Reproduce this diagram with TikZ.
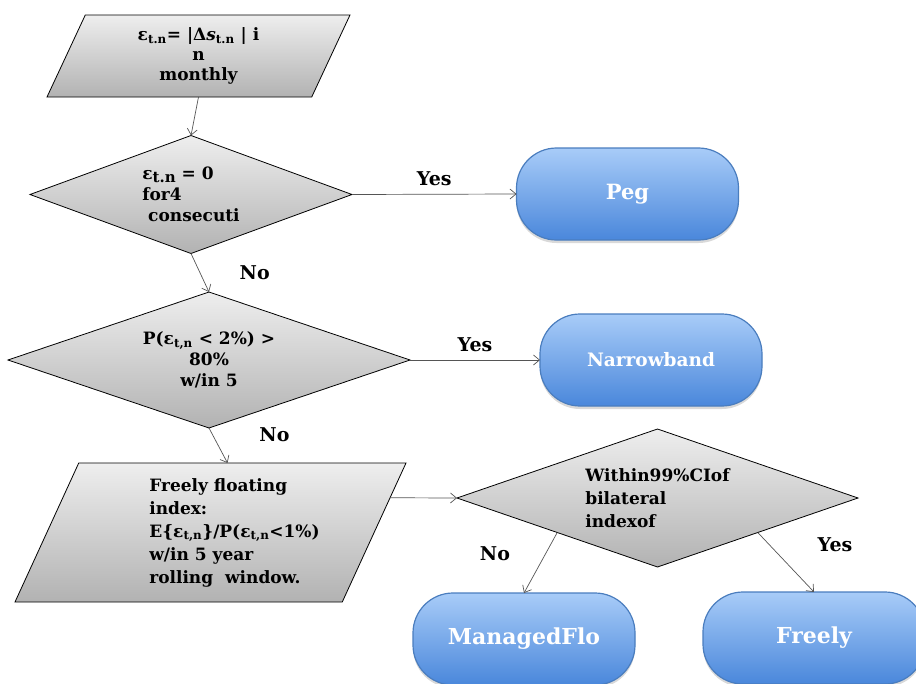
\documentclass[tikz,border=0pt]{standalone}
\usepackage{fontspec}
\setmainfont{DejaVu Serif}
\usetikzlibrary{shapes.geometric,arrows.meta,calc,shadows}
\definecolor{grayTop}{HTML}{EEEEEE}
\definecolor{grayBottom}{HTML}{B2B2B2}
\definecolor{regimeTop}{HTML}{A8CCF8}
\definecolor{regimeBottom}{HTML}{4A87DB}
\definecolor{regimeBorder}{HTML}{4A7DBE}
\definecolor{flowGray}{HTML}{555555}
\begin{document}
\begin{tikzpicture}[
  x=1pt,
  y=-1pt,
  >={Straight Barb[length=6pt,width=10pt]},
  every node/.style={
    font=\bfseries\fontsize{17}{21}\selectfont,
  },
  input box/.style={
    trapezium,
    trapezium stretches body,
    draw=black,
    line width=0.8pt,
    top color=grayTop,
    bottom color=grayBottom,
    inner sep=0pt,
    outer sep=0pt,
  },
  decision/.style={
    diamond,
    draw=black,
    line width=0.8pt,
    top color=grayTop,
    bottom color=grayBottom,
    inner sep=0pt,
    outer sep=0pt,
  },
  regime/.style={
    rectangle,
    rounded corners=40pt,
    draw=regimeBorder,
    line width=1.2pt,
    top color=regimeTop,
    bottom color=regimeBottom,
    text=white,
    minimum width=222pt,
    minimum height=92pt,
    outer sep=0pt,
    drop shadow={shadow xshift=0pt,shadow yshift=-3pt,opacity=0.3},
  },
  flow/.style={
    ->,
    draw=flowGray,
    line width=0.7pt,
  },
  answer/.style={
    font=\bfseries\fontsize{19}{23}\selectfont,
  },
]
\useasboundingbox (0,0) rectangle (916,683);
\clip (0,0) rectangle (916,683);
\node[input box,trapezium left angle=56,trapezium right angle=124,
  minimum width=303pt,minimum height=82pt,align=center,
  font=\bfseries\fontsize{17}{20}\selectfont] (in1) at (198.5,56)
  {ε\textsubscript{t.n}= |Δ\textit{s}\textsubscript{t.n} | i\\n\\monthly};
\node[decision,aspect=2.7,minimum width=322pt,minimum height=118pt,align=left] (dec1) at (191,194.5)
  {ε\raisebox{-0.35ex}{\fontsize{15}{15}\selectfont t.n} = 0\\for4\\\ consecuti};
\node[regime,font=\bfseries\fontsize{21}{25}\selectfont] (peg) at (627.5,194) {Peg};
\node[decision,aspect=2.9,minimum width=402pt,minimum height=136pt,align=center] (dec2) at (209,360)
  {P(ε\textsubscript{t,n} < 2\%) >\\80\%\\w/in 5};
\node[regime,font=\bfseries\fontsize{18.5}{22}\selectfont] (nb) at (651,360) {Narrowband};
\node[input box,trapezium left angle=61,trapezium right angle=119,
  minimum width=391pt,minimum height=139pt,
  font=\bfseries\fontsize{17}{23}\selectfont] (in2) at (210.5,532.5)
  {\hspace*{48pt}\begin{tabular}{@{}l@{}}Freely floating\\index:\\E\{ε\textsubscript{t,n}\}/P(ε\textsubscript{t,n}<1\%)\\w/in 5 year\\rolling\ \ window.\end{tabular}};
\node[decision,aspect=2.9,minimum width=401pt,minimum height=138pt,align=left,
  font=\bfseries\fontsize{17}{23}\selectfont] (dec3) at (657.5,498)
  {Within99\%CIof\\bilateral\\indexof};
\node[regime,font=\bfseries\fontsize{22}{26}\selectfont] (mf) at (524,639) {ManagedFlo};
\node[regime,font=\bfseries\fontsize{22}{26}\selectfont] (fr) at (814,638) {Freely};
\draw[flow] (in1.south) -- (dec1.north);
\draw[flow] (dec1.east) -- node[answer,midway,above=5pt] (yes1) {Yes} (peg.west);
\draw[flow] (dec1.south) -- node[answer,midway,right=36pt] (no1) {No} (dec2.north);
\draw[flow] (dec2.east) -- node[answer,midway,above=5pt] (yes2) {Yes} (nb.west);
\draw[flow] (dec2.south) -- node[answer,pos=0.2,right=43pt] (no2) {No} ([xshift=17pt]in2.north);
\draw[flow] ($(in2.top right corner)!0.25!(in2.bottom right corner)$) -- (dec3.west);
\draw[flow] (dec3.south west) -- node[answer,pos=0.35,left=32pt] (no3) {No} (mf.north);
\draw[flow] (dec3.south east) -- node[answer,pos=0.2,right=45pt] (yes3) {Yes} (fr.north);
\end{tikzpicture}
\end{document}
